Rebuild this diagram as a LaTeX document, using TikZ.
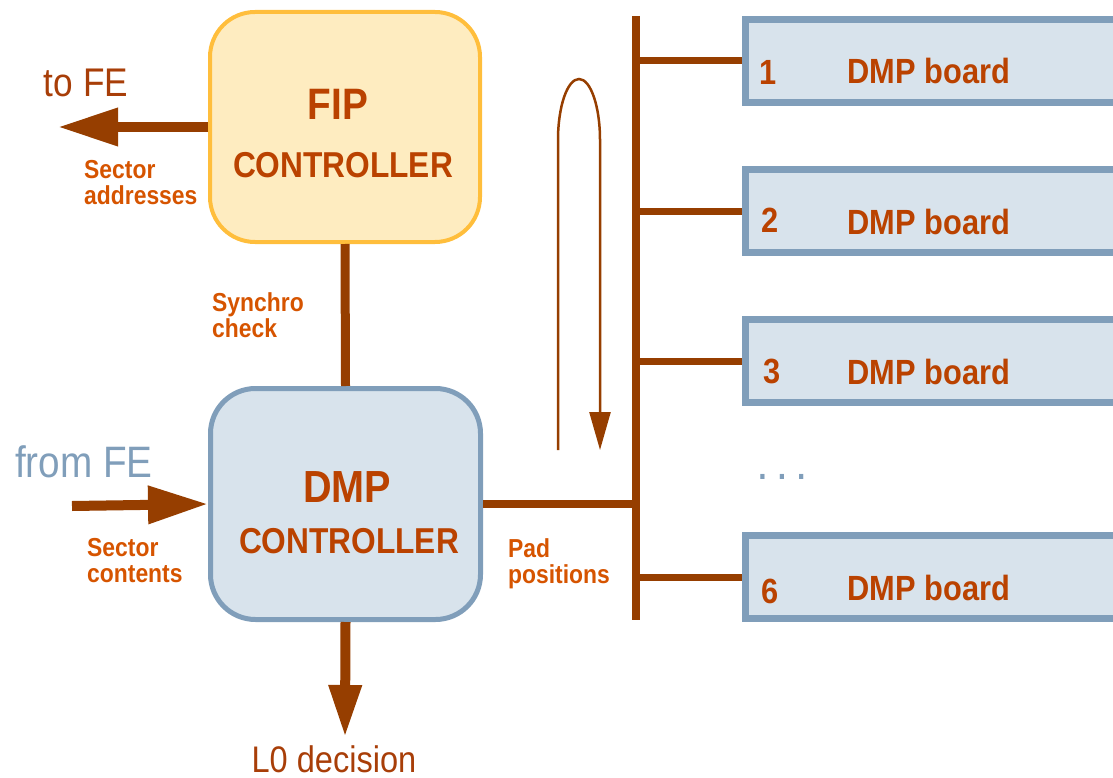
\documentclass[tikz,border=0pt]{standalone}
\usepackage{fontspec}
\setmainfont{Liberation Sans}[FakeStretch=0.88]
\usepackage{xcolor}
\usetikzlibrary{arrows.meta, positioning}
\definecolor{wirebrown}{RGB}{150,62,0}
\definecolor{titlecol}{RGB}{186,66,0}
\definecolor{labelcol}{RGB}{214,84,0}
\definecolor{fecol}{RGB}{168,62,8}
\definecolor{fipfill}{RGB}{254,236,192}
\definecolor{fipdraw}{RGB}{255,190,60}
\definecolor{dmpfill}{RGB}{216,227,236}
\definecolor{dmpdraw}{RGB}{128,158,186}
\tikzstyle{fipbox} = [rectangle, rounded corners=45pt, minimum width=270pt, minimum height=230pt, draw=fipdraw, line width=4pt, fill=fipfill]
\tikzstyle{dmpbox} = [rectangle, rounded corners=45pt, minimum width=270pt, minimum height=231pt, draw=dmpdraw, line width=5pt, fill=dmpfill]
\tikzstyle{board} = [rectangle, minimum width=400pt, minimum height=83pt, draw=dmpdraw, line width=7pt, fill=dmpfill]
\tikzstyle{title} = [inner sep=0pt, anchor=base, text=titlecol, font=\bfseries\fontsize{45}{50}\selectfont]
\tikzstyle{subtitle} = [inner sep=0pt, anchor=base, text=titlecol, font=\bfseries\fontsize{36}{40}\selectfont]
\tikzstyle{boardtext} = [inner sep=0pt, anchor=base, text=titlecol, font=\bfseries\fontsize{35}{40}\selectfont]
\tikzstyle{sigtext} = [inner sep=0pt, anchor=north west, align=left, text=labelcol, font=\bfseries\fontsize{26}{26}\selectfont]
\tikzstyle{fetext} = [inner sep=0pt, anchor=base, font=\fontsize{40}{44}\selectfont]
\tikzstyle{bigarrow} = [wirebrown, line width=10pt, -{Triangle[length=60pt, width=36pt]}]
\tikzstyle{busline} = [wirebrown, line width=8pt]
\tikzstyle{tapline} = [wirebrown, line width=7pt]
\tikzstyle{loopline} = [wirebrown, line width=2.5pt]

\begin{document}
\begin{tikzpicture}[x=1pt, y=-1pt]
\clip (0,0) rectangle (1113,778);
% Controllers
\node (fip) [fipbox] at (345,127) {};
\node (fiptitle) [title, font=\bfseries\fontsize{44}{50}\selectfont] at (338,120) {FIP};
\node (fipsub) [subtitle] at (343,178) {CONTROLLER};
\node (dmp) [dmpbox] at (345.5,504) {};
\node (dmptitle) [title] at (347,502) {DMP};
\node (dmpsub) [subtitle] at (349,553) {CONTROLLER};

% Boards on the bus
\coordinate (bustop) at (636,16);
\coordinate (busbot) at (636,620);
\foreach \n/\y/\nx/\nd in {1/61/768/24, 2/211/770/22, 3/361/772/22, 6/577/770/26} {
  \node (board\n) [board] at (945.5,\y) {};
  \node (boardnum\n) [boardtext] at (\nx,\y+\nd) {\n};
  \node (boardname\n) [boardtext] at (929,\y+23) {DMP board};
}
\node (dots) [inner sep=0pt, anchor=base, text=dmpdraw, font=\bfseries\fontsize{34}{36}\selectfont] at (782,479) {. . .};

% Outside signals
\coordinate (tofeend) at (58,127);
\coordinate (fromfestart) at (72,506);
\coordinate (lzeroend) at (345,737);
\node (tofe) [fetext, text=fecol] at (86,97) {to FE};
\node (fromfe) [fetext, text=dmpdraw, font=\fontsize{44}{48}\selectfont] at (84,477) {from FE};
\node (lzero) [fetext, text=fecol, font=\fontsize{37}{40}\selectfont] at (334,772) {L0 decision};
\node (secaddr) [sigtext] at (84,160) {Sector\\addresses};
\node (synchro) [sigtext] at (212,292) {Synchro\\check};
\node (seccont) [sigtext] at (87,538) {Sector\\contents};
\node (padpos) [sigtext] at (508,538) {Pad\\positions};

% Loop
\coordinate (loopa) at (558,450);
\coordinate (loopb) at (558,140);
\coordinate (loopc) at (600,140);
\coordinate (loopd) at (600,450);

% Arrows
\draw [bigarrow] (fip.west) -- (tofeend);
\draw [bigarrow] (fromfestart) -- (dmp.west);
\draw [bigarrow, -{Triangle[length=52pt, width=31pt]}] (dmp.south) -- (lzeroend);
\draw [wirebrown, line width=9pt] (fip.south) -- (dmp.north);
\draw [busline] (bustop) -- (busbot);
\draw [busline] (dmp.east) -- (dmp.east -| bustop);
\foreach \n in {1,2,3,6}
  \draw [tapline] (board\n.west -| bustop) -- (board\n.west);
\draw [loopline, -{Triangle[length=38pt, width=21pt]}] (loopa) -- (loopb) arc[start angle=180, end angle=0, x radius=21, y radius=-61] -- (loopd);

\end{tikzpicture}
\end{document}
